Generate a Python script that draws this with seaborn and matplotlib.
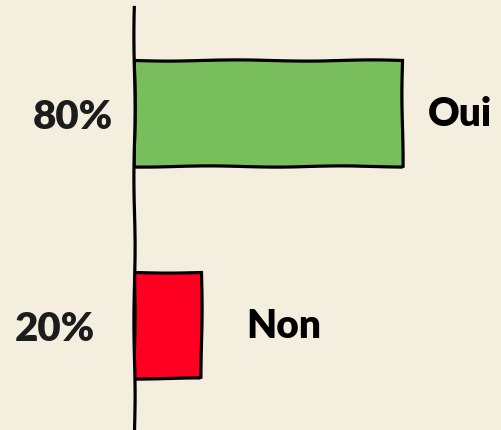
import pandas as pd
import seaborn as sns
import matplotlib.pyplot as plt
from matplotlib.transforms import ScaledTranslation

# Data
#-------------------------------------------------------------------------------------------------#
answers = ["Oui", "Non"]
shares = [80, 20]
pct_labels = ["80%", "20%"]
bar_colors = ["#78BE5C", "#FF0022"]

df = pd.DataFrame({"answer": answers, "share": shares})

# Style
#-------------------------------------------------------------------------------------------------#
sns.set_theme(style="white")
bg = "#F4EEDF"
plt.rcParams["font.family"] = ["Lato", "DejaVu Sans"]

fig = plt.figure(figsize=(5.02, 4.31), dpi=100, facecolor=bg)
ax = fig.add_axes([134 / 502, -1 / 431, 368 / 502, 424 / 431])
ax.set_facecolor(bg)

sns.barplot(data=df, x="share", y="answer", hue="answer", palette=bar_colors,
            width=0.5, edgecolor="black", linewidth=2.3, saturation=1,
            legend=False, ax=ax)

for patch in ax.patches:
    patch.set_sketch_params(0.6, 140, 1.5)

ax.set_xlim(0, 110)
ax.set_ylim(1.5, -0.5)
ax.set_xlabel("")
ax.set_ylabel("")
ax.set_xticks([])
ax.set_yticks(range(len(pct_labels)))
ax.set_yticklabels(pct_labels, fontsize=29, fontweight="heavy", color="#1c1c1c")
ax.tick_params(axis="y", length=0, pad=15)

# the lower percentage sits a bit further left in the original
label_shift = [0, -13]
for lbl, dx in zip(ax.get_yticklabels(), label_shift):
    lbl.set_transform(lbl.get_transform() + ScaledTranslation(dx / 72, 0, fig.dpi_scale_trans))

for side in ["top", "right", "bottom"]:
    ax.spines[side].set_visible(False)
ax.spines["left"].set_linewidth(2.3)
ax.spines["left"].set_color("black")
ax.spines["left"].set_sketch_params(0.6, 150, 1.5)

# category names to the right of each bar
offsets = [19, 33]
for i, (name, val) in enumerate(zip(answers, shares)):
    ax.annotate(name, xy=(val, i), xytext=(offsets[i], 0), textcoords="offset points",
                ha="left", va="center", fontsize=28, fontweight="heavy", color="black")

fig.savefig("out.png", dpi=100, facecolor=bg)
